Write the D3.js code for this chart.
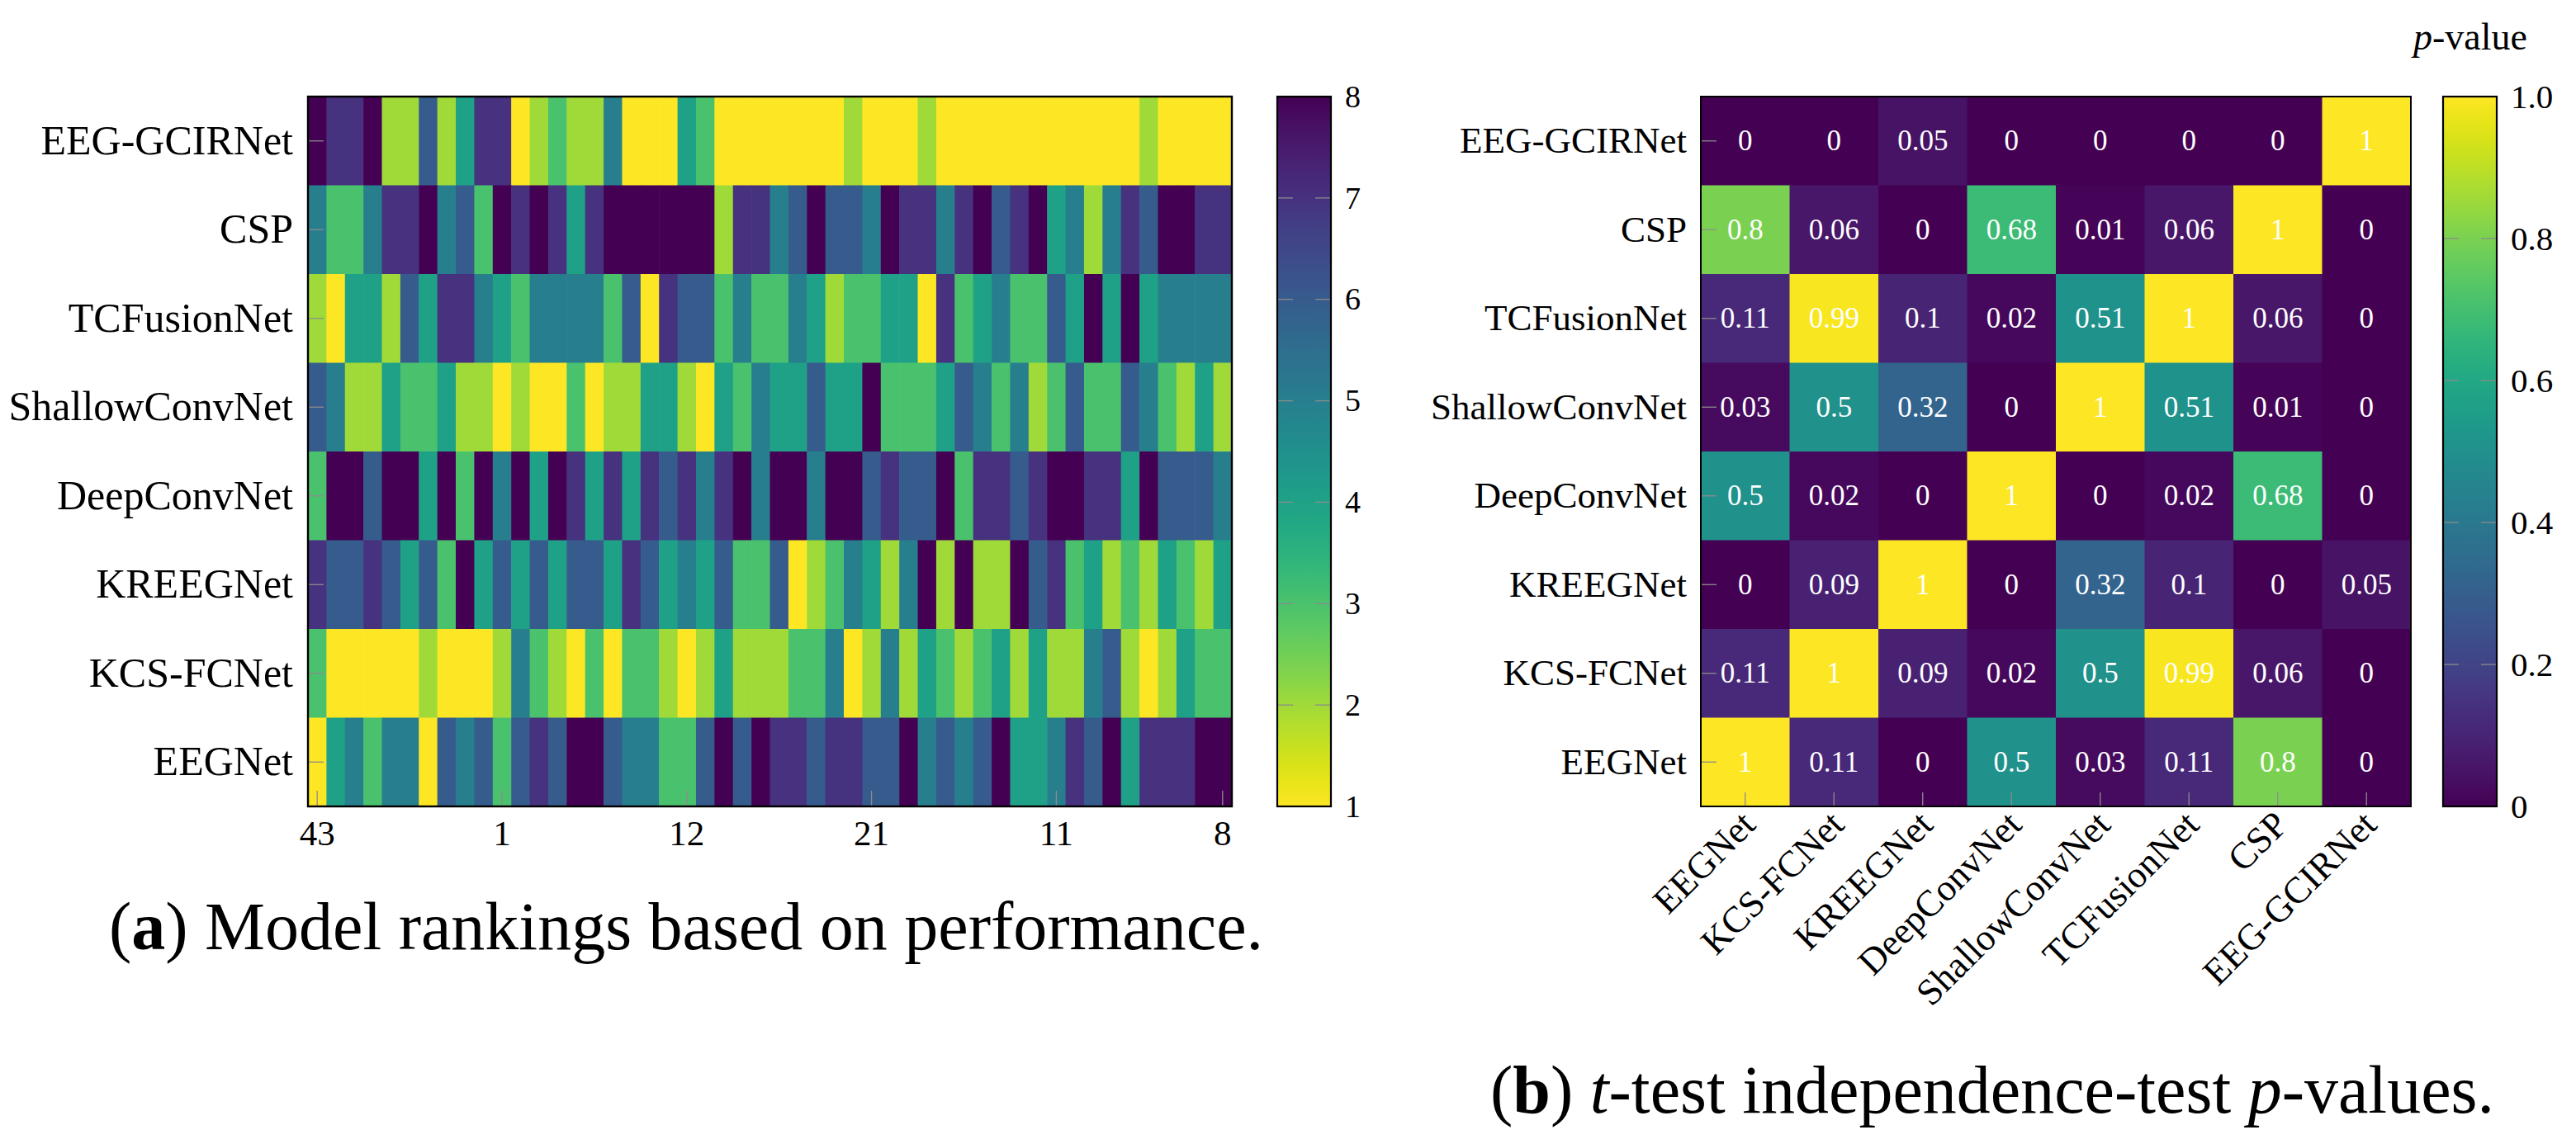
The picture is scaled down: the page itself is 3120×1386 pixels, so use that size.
<!DOCTYPE html>
<html>
<head>
<meta charset="utf-8">
<script src="https://cdn.jsdelivr.net/npm/d3@7"></script>
<style>
  body { margin: 0; background: #fff; }
  svg { display: block; font-family: "Liberation Serif", "DejaVu Serif", serif; }
</style>
</head>
<body>
<svg id="fig" width="3120" height="1386"></svg>
<script>
// models, top row first
const models = ["EEG-GCIRNet", "CSP", "TCFusionNet", "ShallowConvNet",
  "DeepConvNet", "KREEGNet", "KCS-FCNet", "EEGNet"];

// (a) rank of each model per subject (1 = best), 50 subjects
const rankEEGGCIRNet = [8,7,7,8,2,2,6,2,4,7,7,1,2,3,2,2,5,1,1,1,4,3,1,1,1,1,1,1,1,2,1,1,1,2,1,1,1,1,1,1,1,1,1,1,1,2,1,1,1,1];
const rankCSP = [5,3,3,5,7,7,8,5,6,3,8,7,8,7,4,7,8,8,8,8,8,8,2,7,7,5,6,8,6,6,5,8,7,7,5,7,8,6,7,8,4,5,2,5,7,6,8,8,7,7];
const rankTCFusionNet = [2,1,4,4,2,6,4,7,7,5,4,3,5,5,5,5,3,6,1,7,6,6,3,5,3,3,5,4,2,3,3,4,4,1,7,3,4,5,3,3,6,4,8,4,8,4,5,5,5,5];
const rankShallowConvNet = [6,5,2,2,4,3,3,4,2,2,1,2,1,1,3,1,2,2,4,4,2,1,4,3,5,4,4,6,4,4,8,3,3,3,4,6,5,3,5,2,3,6,3,3,6,5,3,2,4,2];
const rankDeepConvNet = [3,8,8,6,8,8,4,8,3,8,5,8,4,8,7,4,7,4,7,6,7,5,7,8,5,8,8,5,8,8,6,7,6,6,8,3,7,7,6,7,8,8,7,7,4,8,6,6,6,5];
const rankKREEGNet = [7,6,6,7,6,4,6,3,8,4,6,4,6,4,6,6,4,7,6,4,5,4,6,3,3,6,1,2,3,5,4,2,5,8,2,8,2,2,8,6,7,3,4,2,3,2,4,3,2,4];
const rankKCSFCNet = [3,1,1,1,1,1,2,1,1,1,2,5,3,2,1,3,1,3,3,2,1,2,4,2,2,2,3,3,5,1,2,5,2,4,3,2,3,4,2,4,2,2,5,6,2,1,2,4,3,3];
const rankEEGNet = [1,4,5,3,5,5,1,6,5,6,3,6,7,6,8,8,6,5,5,3,3,6,8,6,8,7,7,6,7,7,6,6,8,5,6,5,6,8,4,4,5,7,6,8,4,7,7,7,8,8];
const rankRows = [rankEEGGCIRNet, rankCSP, rankTCFusionNet, rankShallowConvNet,
  rankDeepConvNet, rankKREEGNet, rankKCSFCNet, rankEEGNet];

// subject tick labels on the x axis (column index -> subject id)
const subjectTickCols = [0, 10, 20, 30, 40, 49];
const subjectTickLabels = ["43", "1", "12", "21", "11", "8"];
const rankTicks = [1, 2, 3, 4, 5, 6, 7, 8];

// (b) p-value matrix
const pCols = ["EEGNet", "KCS-FCNet", "KREEGNet", "DeepConvNet",
  "ShallowConvNet", "TCFusionNet", "CSP", "EEG-GCIRNet"];
const pEEGGCIRNet = [0, 0, 0.05, 0, 0, 0, 0, 1];
const pCSP = [0.8, 0.06, 0, 0.68, 0.01, 0.06, 1, 0];
const pTCFusionNet = [0.11, 0.99, 0.1, 0.02, 0.51, 1, 0.06, 0];
const pShallowConvNet = [0.03, 0.5, 0.32, 0, 1, 0.51, 0.01, 0];
const pDeepConvNet = [0.5, 0.02, 0, 1, 0, 0.02, 0.68, 0];
const pKREEGNet = [0, 0.09, 1, 0, 0.32, 0.1, 0, 0.05];
const pKCSFCNet = [0.11, 1, 0.09, 0.02, 0.5, 0.99, 0.06, 0];
const pEEGNet = [1, 0.11, 0, 0.5, 0.03, 0.11, 0.8, 0];
const pRows = [pEEGGCIRNet, pCSP, pTCFusionNet, pShallowConvNet,
  pDeepConvNet, pKREEGNet, pKCSFCNet, pEEGNet];
const pTicks = [0, 0.2, 0.4, 0.6, 0.8, 1.0];

const svg = d3.select("#fig");
const yTop = 117, yBot = 977;
const tickGrey = "#8c8c8c";

// strip d3's default axis styling so the serif font applies
function plainAxis(g, fontSize) {
  g.attr("font-family", null).attr("font-size", null);
  g.select(".domain").remove();
  g.selectAll("text").attr("font-size", fontSize).attr("fill", "#000");
  return g;
}

function innerTicksY(g, ys, x0, x1, len) {
  ys.forEach(yy => {
    if (x0 != null) g.append("line").attr("x1", x0).attr("x2", x0 + len).attr("y1", yy).attr("y2", yy);
    if (x1 != null) g.append("line").attr("x1", x1 - len).attr("x2", x1).attr("y1", yy).attr("y2", yy);
  });
  g.selectAll("line").attr("stroke", tickGrey).attr("stroke-width", 1.3);
}

function colorbar(id, x0, x1, scale, color, ticks, fmt, fontSize) {
  const grad = svg.append("defs").append("linearGradient")
    .attr("id", id).attr("x1", 0).attr("y1", 1).attr("x2", 0).attr("y2", 0);
  const [d0, d1] = scale.domain();
  d3.range(0, 1.0001, 0.02).forEach(t => {
    grad.append("stop").attr("offset", t).attr("stop-color", color(d0 + (d1 - d0) * t));
  });
  svg.append("rect").attr("x", x0).attr("y", yTop).attr("width", x1 - x0)
    .attr("height", yBot - yTop).attr("fill", `url(#${id})`);
  const tg = svg.append("g");
  innerTicksY(tg, ticks.slice(1, -1).map(scale), x0, x1, 19);
  svg.append("rect").attr("x", x0).attr("y", yTop).attr("width", x1 - x0)
    .attr("height", yBot - yTop).attr("fill", "none").attr("stroke", "#000").attr("stroke-width", 2.2);
  const ax = svg.append("g").attr("transform", `translate(${x1},0)`)
    .call(d3.axisRight(scale).tickValues(ticks).tickFormat(fmt).tickSize(0).tickPadding(17));
  plainAxis(ax, fontSize);
}

// ---------- (a) ranking heatmap ----------
const xL = d3.scaleBand().domain(d3.range(rankEEGNet.length)).range([373, 1492]);
const yL = d3.scaleBand().domain(models).range([yTop, yBot]);
const rankColor = d3.scaleSequential(d3.interpolateViridis).domain([8, 1]);

const rankCells = models.flatMap((m, r) => rankRows[r].map((v, c) => ({ m, c, v })));
svg.append("g").selectAll("rect").data(rankCells).join("rect")
  .attr("x", d => xL(d.c)).attr("y", d => yL(d.m))
  .attr("width", xL.bandwidth() + 0.6).attr("height", yL.bandwidth() + 0.6)
  .attr("fill", d => rankColor(d.v));

const tickA = svg.append("g");
innerTicksY(tickA, models.map(m => yL(m) + yL.bandwidth() / 2), 373, null, 19);
subjectTickCols.forEach(c => {
  const cx = xL(c) + xL.bandwidth() / 2;
  tickA.append("line").attr("x1", cx).attr("x2", cx).attr("y1", yBot - 19).attr("y2", yBot)
    .attr("stroke", tickGrey).attr("stroke-width", 1.3);
});
svg.append("rect").attr("x", 373).attr("y", yTop).attr("width", 1492 - 373).attr("height", yBot - yTop)
  .attr("fill", "none").attr("stroke", "#000").attr("stroke-width", 2.4);

plainAxis(svg.append("g").attr("transform", "translate(373,0)")
  .call(d3.axisLeft(yL).tickSize(0).tickPadding(18)), 50);

plainAxis(svg.append("g").attr("transform", `translate(0,${yBot})`)
  .call(d3.axisBottom(xL).tickValues(subjectTickCols)
    .tickFormat(d => subjectTickLabels[subjectTickCols.indexOf(d)]).tickSize(0).tickPadding(16)), 43);

colorbar("gradRank", 1547, 1612, d3.scaleLinear().domain([1, 8]).range([yBot, yTop]),
  rankColor, rankTicks, d3.format("d"), 38);

// ---------- (b) p-value heatmap ----------
const xR = d3.scaleBand().domain(pCols).range([2060, 2920]);
const yR = d3.scaleBand().domain(models).range([yTop, yBot]);
const pColor = d3.scaleSequential(d3.interpolateViridis).domain([0, 1]);

const pCells = models.flatMap((m, r) => pRows[r].map((v, c) => ({ m, col: pCols[c], v })));
const cellG = svg.append("g");
cellG.selectAll("rect").data(pCells).join("rect")
  .attr("x", d => xR(d.col)).attr("y", d => yR(d.m))
  .attr("width", xR.bandwidth() + 0.6).attr("height", yR.bandwidth() + 0.6)
  .attr("fill", d => pColor(d.v));

const tickB = svg.append("g");
innerTicksY(tickB, models.map(m => yR(m) + yR.bandwidth() / 2), 2060, null, 19);
pCols.forEach(c => {
  const cx = xR(c) + xR.bandwidth() / 2;
  tickB.append("line").attr("x1", cx).attr("x2", cx).attr("y1", yBot - 17).attr("y2", yBot)
    .attr("stroke", tickGrey).attr("stroke-width", 1.3);
});

cellG.selectAll("text").data(pCells).join("text")
  .attr("x", d => xR(d.col) + xR.bandwidth() / 2).attr("y", d => yR(d.m) + yR.bandwidth() / 2)
  .attr("text-anchor", "middle").attr("dominant-baseline", "central")
  .attr("font-size", 35).attr("fill", "#fff")
  .text(d => String(d.v));

svg.append("rect").attr("x", 2060).attr("y", yTop).attr("width", 2920 - 2060).attr("height", yBot - yTop)
  .attr("fill", "none").attr("stroke", "#000").attr("stroke-width", 2);

plainAxis(svg.append("g").attr("transform", "translate(2060,0)")
  .call(d3.axisLeft(yR).tickSize(0).tickPadding(17)), 45);

const axR = plainAxis(svg.append("g").attr("transform", `translate(0,${yBot})`)
  .call(d3.axisBottom(xR).tickSize(0)), 45);
axR.selectAll("text")
  .attr("x", 0).attr("y", 0).attr("dy", null)
  .attr("text-anchor", "end").attr("dominant-baseline", "central")
  .attr("transform", "translate(4,14) rotate(-45)");

colorbar("gradP", 2959, 3024, d3.scaleLinear().domain([0, 1]).range([yBot, yTop]),
  pColor, pTicks, d => d === 0 ? "0" : d3.format(".1f")(d), 41);

const pLab = svg.append("text").attr("x", 2992).attr("y", 60)
  .attr("text-anchor", "middle").attr("font-size", 46);
pLab.append("tspan").attr("font-style", "italic").text("p");
pLab.append("tspan").text("-value");

// ---------- captions ----------
const capA = svg.append("text").attr("x", 831).attr("y", 1150)
  .attr("text-anchor", "middle").attr("font-size", 82);
capA.append("tspan").text("(");
capA.append("tspan").attr("font-weight", "bold").text("a");
capA.append("tspan").text(") Model rankings based on performance.");

const capB = svg.append("text").attr("x", 2413).attr("y", 1348)
  .attr("text-anchor", "middle").attr("font-size", 82);
capB.append("tspan").text("(");
capB.append("tspan").attr("font-weight", "bold").text("b");
capB.append("tspan").text(") ");
capB.append("tspan").attr("font-style", "italic").text("t");
capB.append("tspan").text("-test independence-test ");
capB.append("tspan").attr("font-style", "italic").text("p");
capB.append("tspan").text("-values.");
</script>
</body>
</html>
